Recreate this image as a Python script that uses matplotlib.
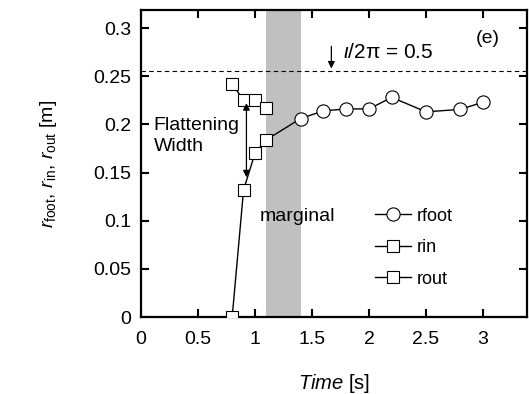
import matplotlib
matplotlib.use("Agg")
import matplotlib.pyplot as plt

plt.rcParams['font.family'] = ['Liberation Sans', 'DejaVu Sans']
plt.rcParams['mathtext.fontset'] = 'custom'
plt.rcParams['mathtext.rm'] = 'Liberation Sans'
plt.rcParams['mathtext.it'] = 'Liberation Sans:italic'
plt.rcParams['mathtext.bf'] = 'Liberation Sans:bold'

# Data
rfoot_t = [1.4, 1.6, 1.8, 2.0, 2.2, 2.5, 2.8, 3.0]
rfoot = [0.206, 0.214, 0.216, 0.216, 0.228, 0.213, 0.2155, 0.223]
rin_t = [0.8, 0.9, 1.0, 1.1]
rin = [0.0, 0.132, 0.170, 0.184]
rout_t = [0.8, 0.9, 1.0, 1.1]
rout = [0.242, 0.225, 0.225, 0.217]
marginal_span = [1.1, 1.4]
iota_level = 0.255
xticks = [0, 0.5, 1, 1.5, 2, 2.5, 3]
xticklabels = ['0', '0.5', '1', '1.5', '2', '2.5', '3']
yticks = [0, 0.05, 0.1, 0.15, 0.2, 0.25, 0.3]
yticklabels = ['0', '0.05', '0.1', '0.15', '0.2', '0.25', '0.3']

fig = plt.figure(figsize=(5.29, 3.94), dpi=100)
ax = fig.add_axes([0.2665, 0.1954, 0.9962 - 0.2665, 0.9746 - 0.1954])

ax.axvspan(marginal_span[0], marginal_span[1], color='#c0c0c0', lw=0, zorder=0)
ax.axhline(iota_level, color='black', lw=0.8, ls=(0, (4, 3)), zorder=1)

mk = dict(color='black', lw=1.0, markerfacecolor='white', markeredgecolor='black',
          markeredgewidth=0.8, zorder=3)
ax.plot(rfoot_t, rfoot, marker='o', markersize=9.5, label='rfoot', **mk)
ax.plot([rin_t[-1], rfoot_t[0]], [rin[-1], rfoot[0]], color='black', lw=1.0, zorder=2)
ax.plot(rin_t, rin, marker='s', markersize=9.0, label='rin', **mk)
ax.plot(rout_t, rout, marker='s', markersize=9.0, label='rout', **mk)

ax.set_xlim(0, 3.386)
ax.set_ylim(0, 0.3187)
ax.set_xticks(xticks)
ax.set_xticklabels(xticklabels)
ax.set_yticks(yticks)
ax.set_yticklabels(yticklabels)
ax.tick_params(direction='in', length=6, width=1.5, top=True, right=True,
               labelsize=14)
ax.tick_params(axis='x', pad=10)
ax.tick_params(axis='y', pad=7)
for s in ax.spines.values():
    s.set_linewidth(1.6)

ax.set_xlabel(r'$Time$ [s]', fontsize=14.5, labelpad=17)
ax.set_ylabel(r'$r_{\mathrm{foot}}$, $r_{\mathrm{in}}$, $r_{\mathrm{out}}$ [m]', fontsize=14, labelpad=25)

# annotations
ax.annotate('', xy=(0.925, 0.145), xytext=(0.925, 0.222),
            arrowprops=dict(arrowstyle='<|-|>', color='black', lw=0.9,
                            mutation_scale=10, shrinkA=0, shrinkB=0))
ax.annotate('', xy=(1.67, 0.258), xytext=(1.67, 0.281),
            arrowprops=dict(arrowstyle='-|>', color='black', lw=0.9,
                            mutation_scale=10, shrinkA=0, shrinkB=0))
ax.text(1.77, 0.2745, r'$\iota$/2π = 0.5', fontsize=15, va='center', ha='left')
ax.text(3.04, 0.289, '(e)', fontsize=14, va='center', ha='center')
ax.text(0.11, 0.188, 'Flattening\nWidth', fontsize=14, va='center', ha='left', linespacing=1.25)
ax.text(1.045, 0.104, 'marginal', fontsize=14, va='center', ha='left')

ax.legend(loc='upper left', bbox_to_anchor=(0.606, 0.356), frameon=False,
          fontsize=13, handlelength=2.0, handletextpad=0.3, labelspacing=0.8,
          borderpad=0, borderaxespad=0)

fig.savefig('out.png', dpi=100)
